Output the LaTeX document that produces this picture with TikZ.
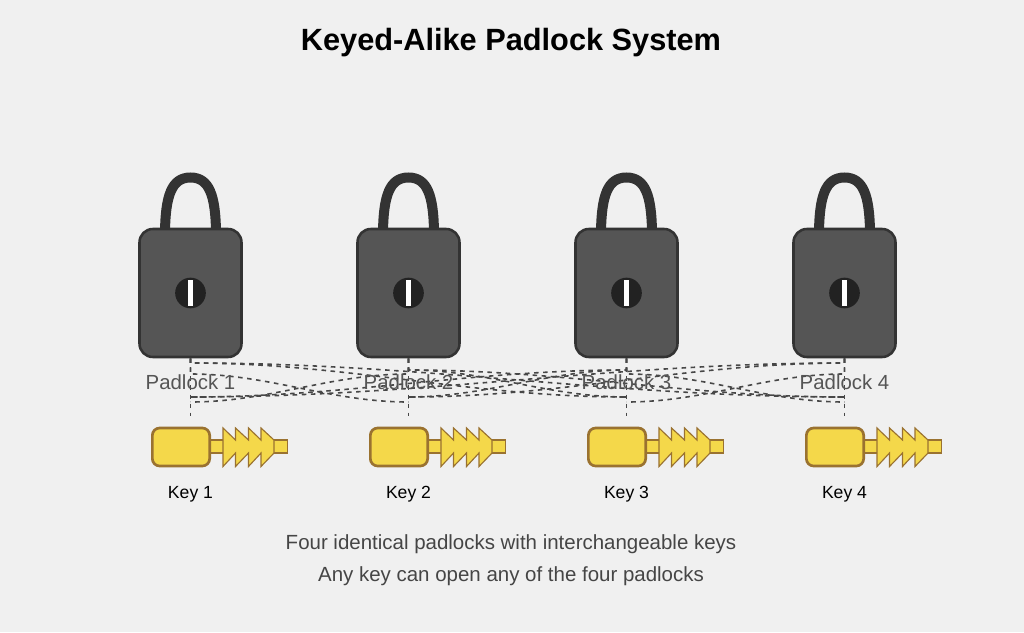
\documentclass[tikz,border=0pt]{standalone}
\usepackage{fontspec}
\setmainfont{Liberation Sans}
\usetikzlibrary{calc}
\definecolor{pagebg}{HTML}{F0F0F0}
\definecolor{lockbody}{HTML}{555555}
\definecolor{lockedge}{HTML}{333333}
\definecolor{holefill}{HTML}{222222}
\definecolor{keyfill}{HTML}{F4D84A}
\definecolor{keyedge}{HTML}{9A7230}
\tikzset{
 lockbox/.style={draw=lockedge,fill=lockbody,line width=1.9pt,rounded corners=10pt,inner sep=0pt,minimum width=76.5pt,minimum height=96pt},
 keyhole/.style={circle,fill=holefill,inner sep=0pt,minimum size=23pt},
 keyslot/.style={fill=white,inner sep=0pt,minimum width=3.8pt,minimum height=19.5pt},
 keybow/.style={draw=keyedge,fill=keyfill,line width=2pt,rounded corners=5.5pt,inner sep=0pt,minimum width=43pt,minimum height=28.5pt},
 keyblade/.style={draw=keyedge,fill=keyfill,line width=0.85pt},
 linkline/.style={draw=lockedge!90,line width=1.2pt,dash pattern=on 3.4pt off 3.4pt},
 locklabel/.style={text=lockbody,font=\fontsize{15.3}{18}\selectfont,anchor=base},
 keylabel/.style={text=black,font=\fontsize{13.2}{15}\selectfont,anchor=base},
 notelabel/.style={text=black!73,font=\fontsize{15.35}{18}\selectfont,anchor=base},
}
\begin{document}
\begin{tikzpicture}[x=0.75pt,y=-0.75pt]
\fill[pagebg] (0,0) rectangle (1024,632);
\useasboundingbox (0,0) rectangle (1024,632);
\node[anchor=base,font=\fontsize{23.05}{27}\selectfont\bfseries] (title) at (511,50) {Keyed-Alike Padlock System};
% padlocks and keys
\foreach \i/\x in {1/190.5,2/408.5,3/626.5,4/844.5} {
 \draw[lockedge,line width=7.5pt] (\x-25.5,232) .. controls (\x-25,196) and (\x-19,177.5) .. (\x,177.5) .. controls (\x+19,177.5) and (\x+25,196) .. (\x+25.5,232);
 \node[lockbox] (lock\i) at (\x,293) {};
 \node[keyhole] (hole\i) at (\x,293) {};
 \node[keyslot] (slot\i) at (\x,293) {};
 \coordinate (keytop\i) at (\x,416);
 \draw[keyblade] (\x+20,440) rectangle (\x+97,453);
 \draw[keyblade] (\x+32.5,428) -- (\x+45,440) -- (\x+45,428) -- (\x+58,440) -- (\x+58,428) -- (\x+70.5,440) -- (\x+70.5,428) -- (\x+83.5,440) -- (\x+83.5,453) -- (\x+70.5,466.5) -- (\x+70.5,453) -- (\x+58,466.5) -- (\x+58,453) -- (\x+45,466.5) -- (\x+45,453) -- (\x+32.5,466.5) -- cycle;
 \node[keybow] (bow\i) at (\x-9.5,447) {};
 \draw[linkline] (lock\i.south) -- (keytop\i);
}
% crossing lines
\foreach \a/\b/\ys/\ye in {1/2/374/402,2/1/374/402,3/4/374/402,4/3/374/402,2/3/370/397,3/2/370/397,1/3/363/397,3/1/370/397,2/4/370/397,4/2/363/397,1/4/363/397,4/1/363/397} {
 \coordinate (near) at ($(keytop\a)!0.36!(keytop\b)$);
 \coordinate (far) at ($(keytop\a)!0.64!(keytop\b)$);
 \draw[linkline] (lock\a.south) -- (lock\a.south |- 0,\ys) .. controls (near |- 0,\ys) and (far |- 0,\ye) .. (keytop\b |- 0,\ye);
}
\foreach \i/\x in {1/190.5,2/408.5,3/626.5,4/844.5} {
 \node[locklabel] (locktext\i) at (\x,389) {Padlock \i};
 \node[keylabel] (keytext\i) at (\x,498) {Key \i};
}
\node[notelabel] (note1) at (511,549) {Four identical padlocks with interchangeable keys};
\node[notelabel] (note2) at (511,581) {Any key can open any of the four padlocks};
\end{tikzpicture}
\end{document}
